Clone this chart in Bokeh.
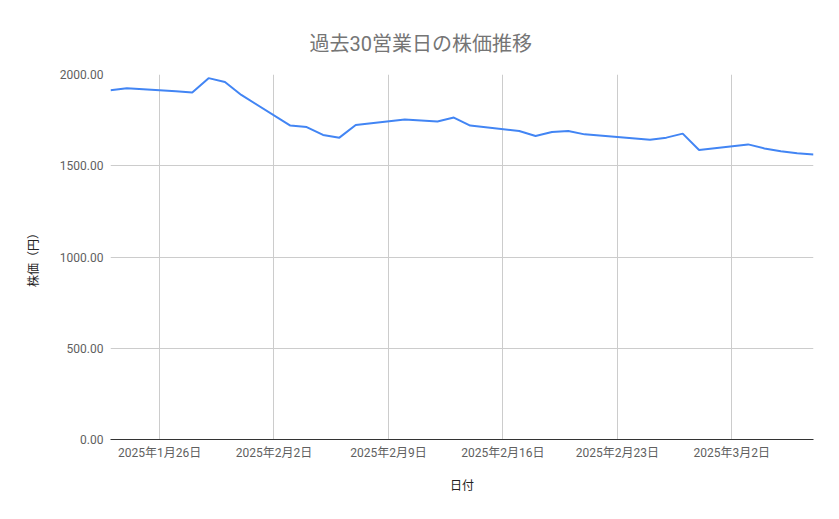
from datetime import datetime
from bokeh.plotting import figure
from bokeh.models import Range1d, FixedTicker, NumeralTickFormatter, ColumnDataSource
from bokeh.embed import file_html
from bokeh.resources import INLINE

dates = ["2025-01-23", "2025-01-24", "2025-01-27", "2025-01-28", "2025-01-29", "2025-01-30",
         "2025-01-31", "2025-02-03", "2025-02-04", "2025-02-05", "2025-02-06", "2025-02-07",
         "2025-02-10", "2025-02-12", "2025-02-13", "2025-02-14", "2025-02-17", "2025-02-18",
         "2025-02-19", "2025-02-20", "2025-02-21", "2025-02-25", "2025-02-26", "2025-02-27",
         "2025-02-28", "2025-03-03", "2025-03-04", "2025-03-05", "2025-03-06", "2025-03-07"]
prices = [1914, 1925, 1908, 1901, 1980, 1959,
          1888, 1720, 1712, 1669, 1654, 1723,
          1754, 1742, 1764, 1720, 1690, 1663,
          1685, 1690, 1672, 1643, 1654, 1676,
          1586, 1617, 1595, 1579, 1568, 1562]
tick_dates = ["2025-01-26", "2025-02-02", "2025-02-09", "2025-02-16", "2025-02-23", "2025-03-02"]
tick_labels = ["2025年1月26日", "2025年2月2日", "2025年2月9日", "2025年2月16日", "2025年2月23日", "2025年3月2日"]
y_ticks = [0, 500, 1000, 1500, 2000]

def ms(s):
    return datetime.strptime(s, "%Y-%m-%d").timestamp() * 1000.0

FONT = "Roboto, 'Noto Sans CJK JP', sans-serif"

src = ColumnDataSource(dict(x=[datetime.strptime(d, "%Y-%m-%d") for d in dates], y=prices))

p = figure(width=831, height=511, x_axis_type="datetime", output_backend="svg",
           toolbar_location=None, title="過去30営業日の株価推移",
           x_range=Range1d(datetime.strptime(dates[0], "%Y-%m-%d"), datetime.strptime(dates[-1], "%Y-%m-%d")),
           y_range=Range1d(0, 2000),
           min_border_left=110, min_border_right=18, min_border_top=74, min_border_bottom=72)
p.outline_line_color = None
p.title.align = "left"
p.title.offset = 199
p.title.standoff = 38
p.title.text_font = FONT
p.title.text_font_size = "20px"
p.title.text_font_style = "normal"
p.title.text_color = "#757575"

p.line("x", "y", source=src, line_color="#4285F4", line_width=2)

tick_ms = [ms(t) for t in tick_dates]
p.xaxis.ticker = FixedTicker(ticks=tick_ms)
p.xaxis.major_label_overrides = {t: l for t, l in zip(tick_ms, tick_labels)}
p.yaxis.ticker = FixedTicker(ticks=y_ticks)
p.yaxis.formatter = NumeralTickFormatter(format="0.00")

for ax in (p.xaxis, p.yaxis):
    ax.major_tick_line_color = None
    ax.minor_tick_line_color = None
    ax.major_label_text_font = FONT
    ax.major_label_text_font_size = "12px"
    ax.major_label_text_color = "#5f5f5f"
    ax.axis_label_text_font = FONT
    ax.axis_label_text_font_size = "12px"
    ax.axis_label_text_font_style = "normal"
    ax.axis_label_text_color = "#222222"
p.yaxis.axis_line_color = None
p.xaxis.axis_line_color = "#333333"
p.xaxis.axis_line_width = 1
p.xaxis.axis_label = "日付"
p.yaxis.axis_label = "株価（円）"
p.xaxis.major_label_standoff = 0
p.yaxis.major_label_standoff = 1
p.xaxis.axis_label_standoff = 16
p.yaxis.axis_label_standoff = 16

p.xgrid.grid_line_color = "#cccccc"
p.ygrid.grid_line_color = "#cccccc"

open("out.html", "w").write(file_html(p, INLINE))
